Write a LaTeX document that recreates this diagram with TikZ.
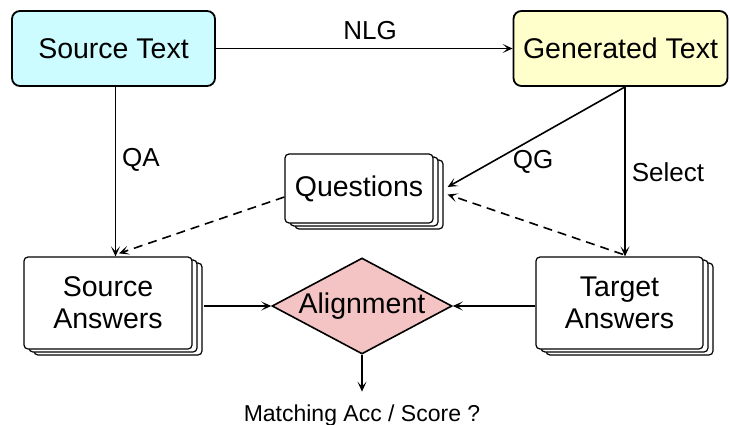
\documentclass[tikz,border=0pt]{standalone}
\usepackage{fontspec}
\setmainfont{Liberation Sans}
\usetikzlibrary{shapes.geometric,arrows.meta,shadows,calc}

\definecolor{srcfill}{RGB}{204,252,255}
\definecolor{genfill}{RGB}{255,255,204}
\definecolor{alfill}{RGB}{244,196,196}

\tikzset{
  bigtext/.style={font=\fontsize{28.5}{32}\selectfont},
  topbox/.style={draw, line width=1.8pt, rounded corners=8pt, minimum height=75pt,
    inner sep=0pt, bigtext},
  stackbox/.style={draw, line width=1.2pt, fill=white, rounded corners=4pt, inner sep=0pt,
    align=center, bigtext,
    copy shadow={shadow xshift=10pt, shadow yshift=-6pt, draw, line width=1.2pt},
    copy shadow={shadow xshift=5pt, shadow yshift=-3pt, draw, line width=1.2pt}},
  decision/.style={diamond, draw, line width=1.6pt, fill=alfill, aspect=1.875,
    minimum width=180pt, minimum height=96pt, inner sep=0pt, bigtext},
  edgelabel/.style={font=\fontsize{26}{30}\selectfont, inner sep=0pt},
  arr/.style={-{Stealth[length=10pt,width=9pt,inset=5pt]}, line width=1.6pt},
  dasharr/.style={arr, dash pattern=on 9pt off 6pt}
}

\begin{document}
\begin{tikzpicture}[x=1pt,y=-1pt]
\useasboundingbox (0,0) rectangle (730,425);

% main texts
\node[topbox, fill=srcfill, minimum width=203pt] (src) at (113.5,48.5) {Source Text};
\node[topbox, fill=genfill, minimum width=214pt] (gen) at (620.5,48.5) {Generated Text};

% stacked documents
\node[stackbox, minimum width=148pt, minimum height=69pt] (q) at (359,188.5) {Questions};
\node[stackbox, minimum width=168pt, minimum height=92pt] (sa) at (108,303) {Source\\Answers};
\node[stackbox, minimum width=167pt, minimum height=92pt] (ta) at (619.5,303) {Target\\Answers};

% comparison step
\node[decision] (al) at (362,306) {Alignment};
\node[anchor=base, inner sep=0pt, font=\fontsize{23}{27}\selectfont] (res) at (362,421.5)
  {Matching Acc / Score ?};

% generation
\draw[arr] (src) -- (gen);
\node[edgelabel] (nlg) at (370,31) {NLG};

% question answering on the source
\draw[arr] ([xshift=2pt]src.south) -- ([xshift=7.5pt]sa.north);
\node[edgelabel] (qa) at (141,160) {QA};

% question generation and answer selection on the output
\coordinate (g0) at ([xshift=4.5pt]gen.south);
\draw[arr] (g0) -- ([xshift=14pt,yshift=1.5pt]q.east);
\node[edgelabel] (qg) at (533,162) {QG};
\draw[arr] (g0) -- ([xshift=5.5pt]ta.north);
\node[edgelabel] (sel) at (668,172) {Select};

% questions feed both answer sets
\draw[dasharr] ([yshift=-8.5pt]q.west) -- ([xshift=11pt,yshift=3pt]sa.north);
\draw[dasharr] ([xshift=3.5pt,yshift=2pt]ta.north) -- ([xshift=14pt,yshift=-6pt]q.east);

% alignment of the two answer sets
\draw[arr] ($(sa.east)+(11,3)$) -- (al.west);
\draw[arr] ($(ta.west)+(0,3)$) -- (al.east);
\draw[arr, shorten >=13pt] (al.south) -- (res.north);
\end{tikzpicture}
\end{document}
